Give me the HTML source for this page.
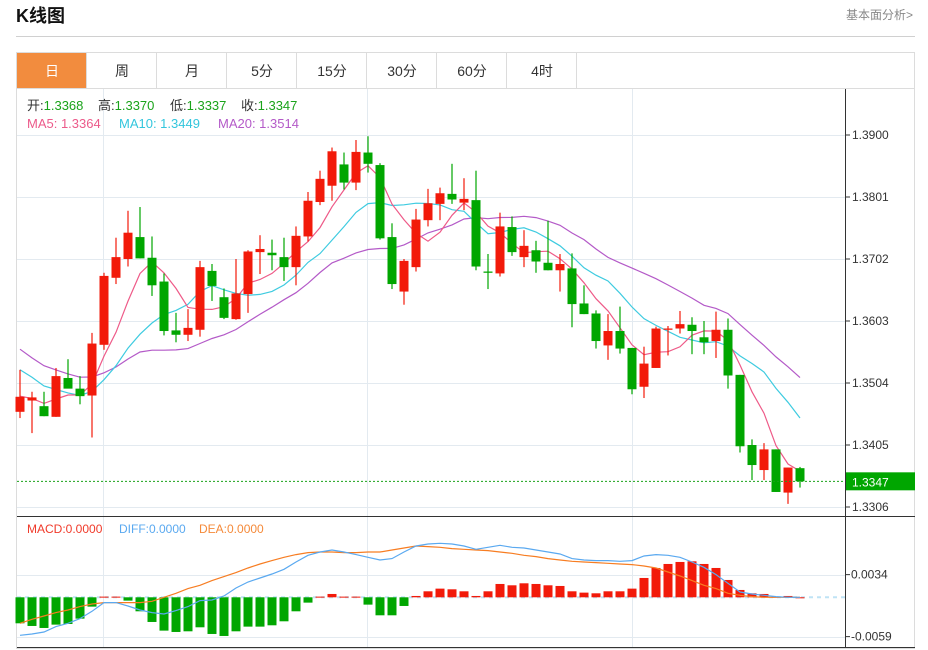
<!DOCTYPE html>
<html><head><meta charset="utf-8">
<style>
body{margin:0;background:#fff;font-family:"Liberation Sans","Noto Sans CJK SC",sans-serif;}
#wrap{position:relative;width:928px;height:650px;overflow:hidden;}
</style></head>
<body>
<div id="wrap">
<svg id="svg" width="928" height="650" xmlns="http://www.w3.org/2000/svg" style="position:absolute;left:0;top:0">
  <text x="16" y="22" font-size="18" font-weight="bold" fill="#111" font-family="Liberation Sans, Noto Sans CJK SC, sans-serif">K线图</text>
  <text x="913" y="19" font-size="12" fill="#888" text-anchor="end" font-family="Liberation Sans, Noto Sans CJK SC, sans-serif">基本面分析&gt;</text>
  <line x1="16" y1="36.5" x2="915" y2="36.5" stroke="#d0d0d0"/>
  <rect x="16.5" y="52.5" width="898" height="596" fill="none" stroke="#dcdcdc"/>
  <g id="tabs"></g>
  <g id="grid"></g>
  <g id="ma"></g>
  <g id="candles"></g>
  <g id="macd"></g>
  <g id="axis"></g>
  <g font-size="13" font-family="Liberation Sans, Noto Sans CJK SC, sans-serif">
    <text x="27" y="110" fill="#333">开:<tspan fill="#1aa31a">1.3368</tspan></text>
    <text x="98" y="110" fill="#333">高:<tspan fill="#1aa31a">1.3370</tspan></text>
    <text x="170" y="110" fill="#333">低:<tspan fill="#1aa31a">1.3337</tspan></text>
    <text x="241" y="110" fill="#333">收:<tspan fill="#1aa31a">1.3347</tspan></text>
    <text x="27" y="128" fill="#ec5a8a">MA5: 1.3364</text>
    <text x="119" y="128" fill="#33c6dd">MA10: 1.3449</text>
    <text x="218" y="128" fill="#b45ac8">MA20: 1.3514</text>
  </g>
  <g font-size="12">
    <text x="27" y="533" fill="#f03a2a">MACD:0.0000</text>
    <text x="119" y="533" fill="#5aa9f0">DIFF:0.0000</text>
    <text x="199" y="533" fill="#f58a3a">DEA:0.0000</text>
  </g>
</svg>
</div>
<script>
const tabLabels = ['日','周','月','5分','15分','30分','60分','4时'];
const priceTicks = ['1.3900','1.3801','1.3702','1.3603','1.3504','1.3405','1.3306'];
const macdTicks = ['0.0034','-0.0059'];
const priorCloses = [1.3760,1.3700,1.3650,1.3620,1.3590,1.3560,1.3540,1.3520,1.3490,1.3480,1.3600,1.3590,1.3570,1.3550,1.3525,1.3500,1.3490,1.3480,1.3463];
const opens = [1.3458,1.3476,1.3467,1.3450,1.3512,1.3495,1.3484,1.3565,1.3672,1.3702,
1.3737,1.3704,1.3666,1.3588,1.3581,1.3589,1.3683,1.3641,1.3606,1.3646,
1.3713,1.3712,1.3705,1.3689,1.3738,1.3793,1.3819,1.3853,1.3824,1.3872,
1.3852,1.3737,1.3650,1.3689,1.3764,1.3790,1.3806,1.3792,1.3796,1.3682,
1.3679,1.3753,1.3705,1.3716,1.3696,1.3684,1.3687,1.3631,1.3615,1.3564,
1.3587,1.3560,1.3498,1.3528,1.3589,1.3591,1.3597,1.3577,1.3571,1.3589,
1.3517,1.3405,1.3365,1.3398,1.3329,1.3368];
const closes = [1.3482,1.3481,1.3451,1.3515,1.3495,1.3483,1.3567,1.3675,1.3705,1.3744,
1.3703,1.3660,1.3587,1.3581,1.3592,1.3689,1.3659,1.3608,1.3647,1.3714,
1.3718,1.3708,1.3689,1.3739,1.3795,1.3830,1.3874,1.3824,1.3873,1.3854,
1.3735,1.3662,1.3699,1.3765,1.3791,1.3807,1.3797,1.3798,1.3690,1.3680,
1.3754,1.3713,1.3723,1.3698,1.3684,1.3694,1.3630,1.3614,1.3571,1.3587,
1.3559,1.3494,1.3535,1.3591,1.3591,1.3598,1.3587,1.3569,1.3589,1.3516,
1.3403,1.3373,1.3398,1.3330,1.3369,1.3347];
const highs = [1.3525,1.3490,1.3490,1.3528,1.3542,1.3515,1.3584,1.3680,1.3736,1.3779,
1.3785,1.3738,1.3679,1.3616,1.3622,1.3699,1.3694,1.3655,1.3702,1.3716,
1.3740,1.3733,1.3736,1.3754,1.3809,1.3843,1.3880,1.3872,1.3892,1.3898,
1.3855,1.3759,1.3702,1.3782,1.3814,1.3816,1.3854,1.3831,1.3843,1.3710,
1.3776,1.3770,1.3748,1.3731,1.3763,1.3710,1.3711,1.3660,1.3620,1.3614,
1.3626,1.3560,1.3562,1.3594,1.3595,1.3619,1.3609,1.3603,1.3618,1.3607,
1.3517,1.3414,1.3408,1.3398,1.3369,1.3370];
const lows = [1.3448,1.3424,1.3451,1.3450,1.3496,1.3470,1.3417,1.3557,1.3662,1.3690,
1.3703,1.3643,1.3580,1.3569,1.3571,1.3578,1.3635,1.3606,1.3605,1.3616,
1.3678,1.3684,1.3667,1.3660,1.3730,1.3788,1.3795,1.3813,1.3812,1.3840,
1.3733,1.3654,1.3629,1.3682,1.3754,1.3764,1.3790,1.3780,1.3684,1.3654,
1.3674,1.3707,1.3689,1.3680,1.3684,1.3650,1.3593,1.3614,1.3559,1.3541,
1.3551,1.3486,1.3480,1.3528,1.3548,1.3583,1.3550,1.3550,1.3544,1.3495,
1.3393,1.3349,1.3349,1.3330,1.3311,1.3337];
const macdHist = [-0.0039,-0.0043,-0.0046,-0.0041,-0.0040,-0.0032,-0.0014,0.0001,0.0001,-0.0005,
-0.0021,-0.0037,-0.0050,-0.0052,-0.0051,-0.0045,-0.0055,-0.0058,-0.0051,-0.0044,
-0.0044,-0.0042,-0.0036,-0.0021,-0.0008,0.0001,0.0005,0.0001,0.0001,-0.0011,
-0.0027,-0.0027,-0.0013,0.0002,0.0009,0.0013,0.0012,0.0009,0.0002,0.0009,
0.0020,0.0018,0.0021,0.0020,0.0018,0.0017,0.0009,0.0007,0.0006,0.0009,
0.0009,0.0013,0.0029,0.0044,0.0050,0.0053,0.0054,0.0050,0.0044,0.0026,
0.0011,0.0006,0.0005,0.0001,0.0002,0.0000];
const diffVals = [-0.0057,-0.0055,-0.0052,-0.0044,-0.0039,-0.0032,-0.0021,-0.0008,-0.0008,-0.0013,
-0.0019,-0.0023,-0.0025,-0.0020,-0.0014,-0.0005,-0.0004,0.0002,0.0014,0.0023,
0.0029,0.0035,0.0042,0.0053,0.0063,0.0068,0.0071,0.0068,0.0064,0.0060,
0.0056,0.0058,0.0068,0.0077,0.0080,0.0081,0.0080,0.0077,0.0072,0.0075,
0.0078,0.0075,0.0074,0.0071,0.0068,0.0065,0.0058,0.0056,0.0055,0.0055,
0.0054,0.0055,0.0062,0.0064,0.0063,0.0060,0.0053,0.0045,0.0034,0.0021,
0.0008,0.0005,0.0003,0.0001,0.0000,0.0000];
const deaVals = [-0.0039,-0.0033,-0.0028,-0.0023,-0.0019,-0.0014,-0.0010,-0.0008,-0.0008,-0.0008,
-0.0008,-0.0006,0.0000,0.0006,0.0013,0.0018,0.0025,0.0031,0.0037,0.0044,
0.0050,0.0055,0.0060,0.0064,0.0067,0.0068,0.0068,0.0067,0.0067,0.0068,
0.0068,0.0071,0.0074,0.0077,0.0076,0.0075,0.0073,0.0072,0.0071,0.0070,
0.0068,0.0066,0.0063,0.0061,0.0058,0.0056,0.0054,0.0053,0.0052,0.0051,
0.0050,0.0049,0.0047,0.0044,0.0038,0.0032,0.0025,0.0018,0.0013,0.0006,
0.0003,0.0001,0.0000,0.0000,0.0000,0.0000];
const lastPrice = 1.3347;

const NS='http://www.w3.org/2000/svg';
const svg=document.getElementById('svg');
function mk(tag,attrs,parent){const e=document.createElementNS(NS,tag);for(const k in attrs)e.setAttribute(k,attrs[k]);parent.appendChild(e);return e;}
const X0=20, STEP=12, BODY=9;
const xAt=i=>X0+i*STEP;
const yP=p=>135+(1.39-p)/0.0099*62;
const yM=v=>597.3-v/0.00015;
const RED='#f21a0a', GREEN='#00a600';

// tabs
const tabs=document.getElementById('tabs');
tabLabels.forEach((t,i)=>{
  const x=17+i*70;
  const r=mk('rect',{x:x,y:53,width:69,height:35,fill:i===0?'#f28c3e':'#fff'},tabs);
  
  
  mk('line',{x1:x+69.5,y1:53,x2:x+69.5,y2:88,stroke:'#dcdcdc'},tabs);
  const tx=mk('text',{x:x+35,y:76,'font-size':14,'text-anchor':'middle',fill:i===0?'#fff':'#333','font-family':'Liberation Sans, Noto Sans CJK SC, sans-serif'},tabs);
  tx.textContent=t;
  
  
});
mk('line',{x1:16,y1:88.5,x2:915,y2:88.5,stroke:'#dcdcdc'},tabs);

// grid
const grid=document.getElementById('grid');
priceTicks.forEach(t=>{const y=Math.round(yP(+t))+0.5;mk('line',{x1:17,y1:y,x2:845,y2:y,stroke:'#e3eaf0'},grid);});
macdTicks.forEach(t=>{const y=Math.round(yM(+t))+0.5;mk('line',{x1:17,y1:y,x2:845,y2:y,stroke:'#e3eaf0'},grid);});
[103.5,367.5,632.5].forEach(x=>mk('line',{x1:x,y1:89,x2:x,y2:647,stroke:'#e3eaf0'},grid));

// MAs
const allC=priorCloses.concat(closes);
function ma(n){const out=[];for(let i=0;i<closes.length;i++){const j=i+priorCloses.length;let s=0;for(let k=j-n+1;k<=j;k++)s+=allC[k];out.push(s/n);}return out;}
const maG=document.getElementById('ma');
[[20,'#b45ac8','ma20-line'],[10,'#3ecbe0','ma10-line'],[5,'#ee5a88','ma5-line']].forEach(([n,c,name])=>{
  const v=ma(n);
  const p=mk('polyline',{points:v.map((m,i)=>xAt(i)+','+yP(m).toFixed(1)).join(' '),fill:'none',stroke:c,'stroke-width':1.2},maG);
  
  
});

// candles
const cg=document.getElementById('candles');
closes.forEach((c,i)=>{
  const o=opens[i], up=c>=o, col=up?RED:GREEN, x=xAt(i);
  const g=mk('g',{},cg);
  
  
  mk('line',{x1:x,y1:yP(highs[i]),x2:x,y2:yP(lows[i]),stroke:col,'stroke-width':1.2},g);
  const top=yP(Math.max(o,c)), bot=yP(Math.min(o,c));
  mk('rect',{x:x-BODY/2,y:top,width:BODY,height:Math.max(1,bot-top),fill:col},g);
});

// last price line
const ly=yP(lastPrice);
const lpl=mk('line',{x1:17,y1:ly,x2:845,y2:ly,stroke:'#1aa31a','stroke-dasharray':'2,2'},svg);



// MACD
const mg=document.getElementById('macd');
mk('line',{x1:17,y1:yM(0),x2:845,y2:yM(0),stroke:'#bfe3f5','stroke-width':2,'stroke-dasharray':'4,4'},mg);
macdHist.forEach((v,i)=>{
  const y0=yM(0), y1=yM(v);
  const r=mk('rect',{x:xAt(i)-BODY/2,y:Math.min(y0,y1),width:BODY,height:Math.max(1,Math.abs(y1-y0)),fill:v>=0?RED:GREEN},mg);
  
  
});
const dl=mk('polyline',{points:deaVals.map((v,i)=>xAt(i)+','+yM(v).toFixed(1)).join(' '),fill:'none',stroke:'#f77d22','stroke-width':1.2},mg);


const fl=mk('polyline',{points:diffVals.map((v,i)=>xAt(i)+','+yM(v).toFixed(1)).join(' '),fill:'none',stroke:'#5aa9f0','stroke-width':1.2},mg);



// axes
const ax=document.getElementById('axis');
mk('line',{x1:845.5,y1:89,x2:845.5,y2:648,stroke:'#333'},ax);
mk('line',{x1:17,y1:516.5,x2:915,y2:516.5,stroke:'#333'},ax);
mk('line',{x1:17,y1:647.5,x2:915,y2:647.5,stroke:'#333'},ax);
priceTicks.forEach(t=>{
  const y=yP(+t);
  mk('line',{x1:845,y1:y,x2:850,y2:y,stroke:'#333'},ax);
  const tx=mk('text',{x:852,y:y+4,'font-size':12,fill:'#333'},ax);
  tx.textContent=t;
  
  
});
macdTicks.forEach(t=>{
  const y=yM(+t);
  mk('line',{x1:845,y1:y,x2:850,y2:y,stroke:'#333'},ax);
  const tx=mk('text',{x:851,y:y+4,'font-size':12,fill:'#333'},ax);
  tx.textContent=t;
  
  
});
const box=mk('rect',{x:846,y:ly-9,width:69,height:18,fill:'#00a600'},ax);


const bt=mk('text',{x:852,y:ly+5,'font-size':12,fill:'#fff'},ax);
bt.textContent=lastPrice.toFixed(4);


</script>
</body></html>
